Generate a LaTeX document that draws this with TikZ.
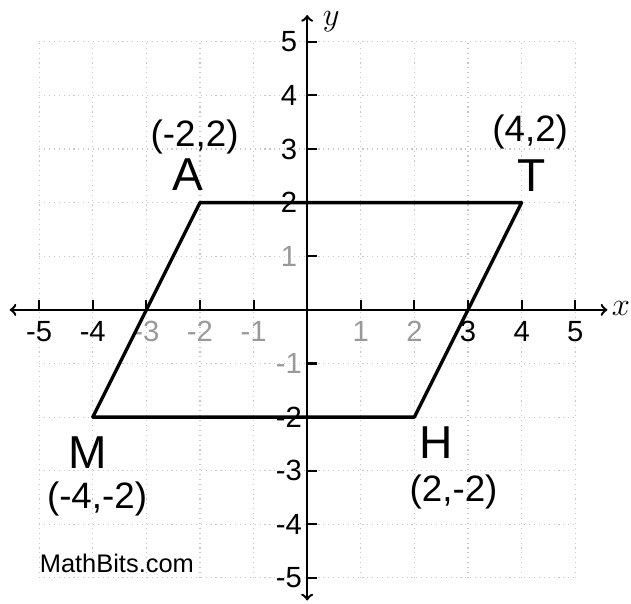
\documentclass[tikz,border=0pt]{standalone}
\usepackage{fontspec}
\setmainfont{Liberation Sans}
\usetikzlibrary{positioning}

\tikzset{
  axis/.style={line width=1.3pt, >=to},
  tickmark/.style={line width=1.1pt},
  ticklab/.style={font=\fontsize{15.5}{17}\selectfont},
  faint/.style={ticklab, text=black!40},
  vertlab/.style={font=\fontsize{24.5}{27}\selectfont},
  coordlab/.style={font=\fontsize{19.5}{22}\selectfont},
}

\begin{document}
\begin{tikzpicture}
            \useasboundingbox (-5.73,-5.47) rectangle (6.04,5.78);
            \draw[black!22, dotted, line width=0.6pt] (-5,-5) grid (5,5);
            % axes
            \coordinate (xl) at (-5.55,0);
            \coordinate (xr) at (5.6,0);
            \coordinate (yb) at (0,-5.42);
            \coordinate (yt) at (0,5.5);
            \draw[axis, <->] (xl) -- (xr);
            \draw[axis, <->] (yb) -- (yt);
            \node[font=\fontsize{16}{18}\selectfont] (xname) at (5.85,0.02) {$x$};
            \node[font=\fontsize{16}{18}\selectfont] (yname) at (0.45,5.38) {$y$};
            \foreach \i in {-5,...,-1,1,2,...,5} {
                \draw[tickmark] (\i,0) -- (\i,0.18);
                \draw[tickmark] (0,\i) -- (0.18,\i);
            }
            \foreach \i in {-5,-4,3,4,5}
                \node[ticklab] (xt\i) at (\i,-0.4) {\i};
            \foreach \i in {-3,-2,-1,1,2}
                \node[faint] (xt\i) at (\i,-0.4) {\i};
            \foreach \i in {-5,-4,-3,-2,2,3,4,5}
                \node[ticklab] (yt\i) at (-0.34,\i) {\i};
            \foreach \i in {-1,1}
                \node[faint] (yt\i) at (-0.34,\i) {\i};
            % parallelogram
            \coordinate (A) at (-2,2);
            \coordinate (T) at (4,2);
            \coordinate (H) at (2,-2);
            \coordinate (M) at (-4,-2);
            \draw[line width=1.8pt, line join=round] (A) -- (T) -- (H) -- (M) -- cycle;
            \node[vertlab] (lA) at (-2.22,2.52) {A};
            \node[coordlab] (cA) at (-2.1,3.22) {(-2,2)};
            \node[vertlab] (lT) at (4.18,2.5) {T};
            \node[coordlab] (cT) at (4.16,3.32) {(4,2)};
            \node[vertlab] (lH) at (2.41,-2.47) {H};
            \node[coordlab] (cH) at (2.73,-3.4) {(2,-2)};
            \node[vertlab] (lM) at (-4.09,-2.66) {M};
            \node[coordlab] (cM) at (-3.92,-3.53) {(-4,-2)};
            \node[font=\fontsize{13.5}{15}\selectfont] (site) at (-3.55,-4.72) {MathBits.com};
        \end{tikzpicture}
\end{document}
